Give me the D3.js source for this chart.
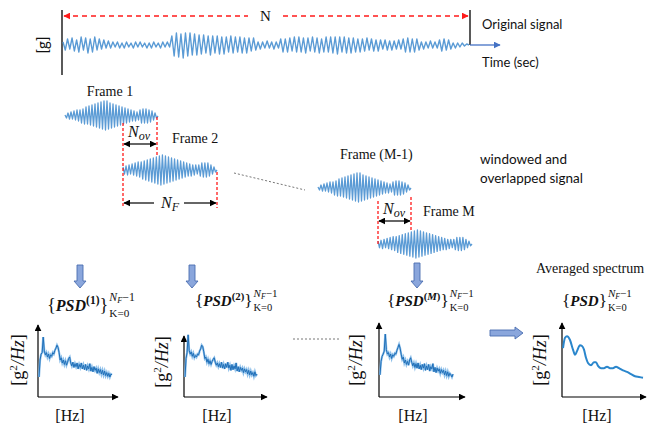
<!DOCTYPE html>
<html><head><meta charset="utf-8">
<script src="https://cdn.jsdelivr.net/npm/d3@7"></script>
<style>body{margin:0;background:#fff} svg{display:block}</style>
</head><body><svg id="c" width="656" height="426"></svg>
<script>
// ---------------- DATA ----------------
// original acceleration record, successive half-cycle peaks
const originalSignal = [
 3,-5,6,-4,7,-6,5,-7,8,-5, 7,-8,6,-7,8,-5,6,-4,5,-3,
 4,-3,3,-2,3,-3,2,-3,3,-2, 2,-3,3,-2,3,-2,2,-3,2,-3,
 3,-2,2,-3,3,-2,3,-2,
 9,-11,12,-12,11,-13,12,-11,12,-10,11,-10,
 10,-9,10,-8,9,-10,9,-8,9,-9, 8,-9,8,-7,9,-8,8,-7,8,-8,
 7,-8,7,-6,7,-5, 3,-4,3,-3,4,-3,3,-4,3,-3,
 6,-7,6,-7,7,-6,8,-7,8,-7, 7,-8,7,-6,8,-7,7,-8,6,-7,8,-7,8,-8,
 8,-9,8,-7,8,-8,7,-8,7,-7, 6,-7,6,-6,7,-5,6,-6,5,-6,
 5,-4,5,-5,4,-5,4,-4,5,-4, 6,-7,7,-7,6,-7,6,-5,
 3,-4,3,-3,4,-3,3,-3, 5,-6,6,-5,5,-4, 2,-3,2,-2,2,-1,1,0
];
// windowed frames (half-cycle peaks)
const frameA = [
 1,-2,3,-3,4,-3, 5,-4,6,-5,6,-7, 7,-8,9,-8,10,-9, 11,-10,12,-11,13,-12,
 14,-13,15,-14,15,-13, 13,-12,12,-11,11,-10, 10,-9,9,-8,8,-7,
 7,-6,6,-5,5,-5, 4,-4,6,-7,7,-7, 7,-7,6,-6,5,-4, 3,-2,0
];
const frameB = [
 3,-4,4,-5,5,-4, 6,-5,7,-6,8,-7, 8,-9,9,-10,10,-11, 11,-12,12,-13,13,-14,
 14,-15,15,-14,14,-13, 13,-12,12,-11,11,-10, 10,-9,9,-8,8,-7,
 7,-6,6,-6,5,-5, 5,-4,5,-6,7,-7, 7,-7,7,-6,5,-4, 3,-2,0
];
// PSD estimates of frames (relative level 0..100)
const psd1 = [27,50,58,60,81,62,57,60,54,58,52,57,55,60,58,63,66,70,67,60,50,53,46,50,44,49,43,47,52,54,
 46,42,47,40,45,41,46,38,44,40,46,38,43,37,44,36,42,38,45,35,40,34,41,36,39,32,38,33,37,31,36,30,35,29,33,28,32,27,31,30];
const psd2 = [27,52,60,84,63,58,61,55,59,53,56,54,58,57,62,65,70,68,61,52,54,47,51,45,49,44,48,51,53,47,
 43,46,41,45,40,47,39,44,38,45,40,47,39,43,36,44,37,42,38,46,35,41,34,40,36,39,33,38,34,37,31,36,30,35,30,33,28,34,29,31];
const psdM = [30,48,55,58,62,85,64,58,60,54,58,52,57,55,59,58,63,67,71,66,58,51,54,46,50,44,48,43,50,53,
 47,42,46,40,45,39,46,38,43,37,44,39,45,36,42,37,44,35,41,38,45,34,40,33,39,35,38,32,37,33,36,30,35,29,34,28,32,30,27,31];
// averaged spectrum
const avgFreq = [0,2,4,7,10,12,14,17,19,21,23,25,28,31,33,35,38,41,44,47,50,53,56,60,64,68,72,76,80];
const avgPSD  = [66,80,82,77,64,57,62,70,69,64,53,46,43,47,47,42,39,39,41,39,39,41,39,36,34,31,28,27,26];
const textLabels = {frames:["Frame 1","Frame 2","Frame (M-1)","Frame  M"],
  original:"Original signal", time:"Time (sec)", win1:"windowed and", win2:"overlapped signal",
  avg:"Averaged spectrum"};

// ---------------- DRAWING ----------------
const svg = d3.select("#c");
const SERIF = "Liberation Serif";
const SANS = "Lato";
const WAVE = "#5b9bd5";
const defs = svg.append("defs");
function marker(id, color, size){
  defs.append("marker").attr("id",id).attr("viewBox","0 0 10 10").attr("refX",9).attr("refY",5)
   .attr("markerWidth",size).attr("markerHeight",size).attr("markerUnits","userSpaceOnUse")
   .attr("orient","auto-start-reverse")
   .append("path").attr("d","M0,0L10,5L0,10z").attr("fill",color);
}
marker("ak","#000",7); marker("ar","#ff1a1a",7); marker("ab","#4472c4",7);

function wave(data, x0, x1, cy, amp, w){
  const x = d3.scaleLinear().domain([0,data.length-1]).range([x0,x1]);
  const y = d3.scaleLinear().domain([-15,15]).range([cy+amp, cy-amp]);
  svg.append("path").attr("d", d3.line().x((d,i)=>x(i)).y(d=>y(d))(data))
    .attr("fill","none").attr("stroke",WAVE).attr("stroke-width",w||1.3).attr("stroke-linejoin","round");
}
function line(x1,y1,x2,y2,color,width,dash,ms,me){
  const l = svg.append("line").attr("x1",x1).attr("y1",y1).attr("x2",x2).attr("y2",y2)
   .attr("stroke",color).attr("stroke-width",width);
  if(dash) l.attr("stroke-dasharray",dash);
  if(ms) l.attr("marker-start","url(#"+ms+")");
  if(me) l.attr("marker-end","url(#"+me+")");
  return l;
}
function text(str,x,y,opts){
  const t = svg.append("text").attr("x",x).attr("y",y).text(str)
    .style("font-family",opts.font||SERIF).attr("font-size",opts.size||14).attr("fill","#111");
  if(opts.anchor) t.attr("text-anchor",opts.anchor);
  if(opts.style) t.attr("font-style",opts.style);
  return t;
}

// ---- top: original signal ----
line(62,10,62,75,"#000",1.3);
line(470,10,470,45,"#000",1.3);
wave(originalSignal, 63, 469, 45, 15, 1.4);
line(470,45,500,45,"#4472c4",1.3,null,null,"ab");
line(64,16,248,16,"#ff1a1a",1.3,"5,4","ar");
line(283,16,468,16,"#ff1a1a",1.3,"5,4",null,"ar");
text("N",265.5,21,{size:15,anchor:"middle"});
text("[g]",0,0,{font:SANS,size:15,anchor:"middle"}).attr("transform","translate(48,45) rotate(-90)");
text(textLabels.original,482,29,{font:SANS,size:13});
text(textLabels.time,482,67,{font:SANS,size:13});

// ---- frames ----
wave(frameA, 65, 158, 116, 15);
wave(frameB, 123, 217, 170, 15);
wave(frameA, 318, 411, 188, 15);
wave(frameB, 378, 472, 244, 14);
text(textLabels.frames[0],110,96,{size:14,anchor:"middle"});
text(textLabels.frames[1],172,143,{size:14});
text(textLabels.frames[2],340,159,{size:14});
text(textLabels.frames[3],423,216,{size:14});
text(textLabels.win1,480,164,{font:SANS,size:13.5});
text(textLabels.win2,480,183,{font:SANS,size:13.5});

// red dashed limits
line(123,123,123,208,"#ff1a1a",1.3,"3,2");
line(157,117,157,157,"#ff1a1a",1.3,"3,2");
line(217,172,217,208,"#ff1a1a",1.3,"3,2");
line(378,201,378,245,"#ff1a1a",1.3,"3,2");
line(411,197,411,232,"#ff1a1a",1.3,"3,2");

function nLabel(x,y,sub){
  const t = svg.append("text").attr("x",x).attr("y",y).style("font-family",SERIF)
    .attr("font-size",16).attr("font-style","italic").attr("fill","#111");
  t.append("tspan").text("N");
  t.append("tspan").text(sub).attr("font-size",12).attr("dy",3);
}
line(124,144,156,144,"#000",1.2,null,"ak","ak");
nLabel(128,137,"ov");
line(124,203,154,203,"#000",1.2,null,"ak");
line(184,203,216,203,"#000",1.2,null,null,"ak");
nLabel(161,208,"F");
line(379,221,410,221,"#000",1.2,null,"ak","ak");
nLabel(383,214,"ov");

// gray connecting dashes
line(234,173,305,190,"#666",0.9,"2,2");
line(293,339,340,339,"#666",0.9,"2,2");

// block arrows
function downArrow(cx,y0,y1){
  const p = `M${cx-3},${y0}L${cx+3},${y0}L${cx+3},${y1-7}L${cx+6},${y1-7}L${cx},${y1}L${cx-6},${y1-7}L${cx-3},${y1-7}Z`;
  svg.append("path").attr("d",p).attr("fill","#8aa6dc").attr("stroke","#4a6db0").attr("stroke-width",0.9);
}
downArrow(80,265,288); downArrow(192,265,288); downArrow(417,263,288);
svg.append("path").attr("d","M490,330L515,330L515,327L523,333L515,339L515,336L490,336Z")
  .attr("fill","#8aa6dc").attr("stroke","#4a6db0").attr("stroke-width",0.9);

// ---- PSD panels ----
function psdLabel(x,y,sup,size){
  const t = svg.append("text").attr("x",x).attr("y",y).style("font-family",SERIF)
    .attr("font-size",size).attr("fill","#111");
  t.append("tspan").text("{").attr("font-size",size*1.15);
  t.append("tspan").text("PSD").attr("font-weight","bold").attr("font-style","italic");
  if(sup){
    const s = t.append("tspan").attr("font-size",size*0.72).attr("dy",-size*0.42).attr("font-weight","bold");
    s.append("tspan").text("(");
    s.append("tspan").text(sup).attr("font-style", sup==="M"?"italic":"normal");
    s.append("tspan").text(")");
    t.append("tspan").text("}").attr("dy",size*0.42).attr("font-size",size*1.15);
  } else t.append("tspan").text("}").attr("font-size",size*1.15);
  const w = t.node().getComputedTextLength();
  const sp = svg.append("text").attr("x",x+w+1).attr("y",y-size*0.6).style("font-family",SERIF)
    .attr("font-size",size*0.74).attr("fill","#111");
  sp.append("tspan").text("N").attr("font-style","italic");
  sp.append("tspan").text("F").attr("font-style","italic").attr("font-size",size*0.52).attr("dy",2);
  sp.append("tspan").text("\u22121").attr("dy",-2);
  svg.append("text").attr("x",x+w+1).attr("y",y+size*0.35).style("font-family",SERIF)
    .attr("font-size",size*0.7).attr("fill","#111").text("K=0");
}
function yLabel(cx,cy){
  const t = svg.append("text").style("font-family",SERIF).attr("font-size",18).attr("fill","#111")
    .attr("text-anchor","middle").attr("transform",`translate(${cx},${cy}) rotate(-90)`);
  t.append("tspan").text("[g");
  t.append("tspan").text("2").attr("font-size",11).attr("dy",-7);
  t.append("tspan").text("/").attr("dy",7).attr("font-style","italic");
  t.append("tspan").text("Hz").attr("font-style","italic");
  t.append("tspan").text("]");
}
function panel(ax, top, right, spanEnd, data, curveX){
  line(ax,397,ax,top,"#000",1.2,null,null,"ak");
  line(ax,397,right,397,"#000",1.2,null,null,"ak");
  const y = d3.scaleLinear().domain([0,100]).range([397,323]);
  let gen, x;
  if(curveX){
    x = d3.scaleLinear().domain([0,80]).range([ax+1,spanEnd]);
    gen = d3.line().x((d,i)=>x(curveX[i])).y(d=>y(d)).curve(d3.curveMonotoneX);
    svg.append("path").attr("d",gen(data)).attr("fill","none").attr("stroke","#2a86cc").attr("stroke-width",2);
  } else {
    x = d3.scaleLinear().domain([0,data.length-1]).range([ax+1,spanEnd]);
    gen = d3.line().x((d,i)=>x(i)).y(d=>y(d));
    svg.append("path").attr("d",gen(data)).attr("fill","none").attr("stroke","#8fc0ea").attr("stroke-width",2.2);
    svg.append("path").attr("d",gen(data)).attr("fill","none").attr("stroke","#1f6fb8").attr("stroke-width",1);
  }
}
panel(38,325,118,112,psd1);
panel(184,336,267,257,psd2);
panel(379,323,465,453,psdM);
panel(562,323,646,643,avgPSD,avgFreq);
yLabel(24,360); yLabel(168,362); yLabel(362,360); yLabel(546,360);
[70,217,413,597].forEach(cx=>text("[Hz]",cx,421,{size:16,anchor:"middle"}));
psdLabel(47,311,"1",16);
psdLabel(195,306,"2",15);
psdLabel(387,306,"M",15);
psdLabel(562,306,null,15);
text(textLabels.avg,590,273,{size:14,anchor:"middle"});
</script></body></html>
